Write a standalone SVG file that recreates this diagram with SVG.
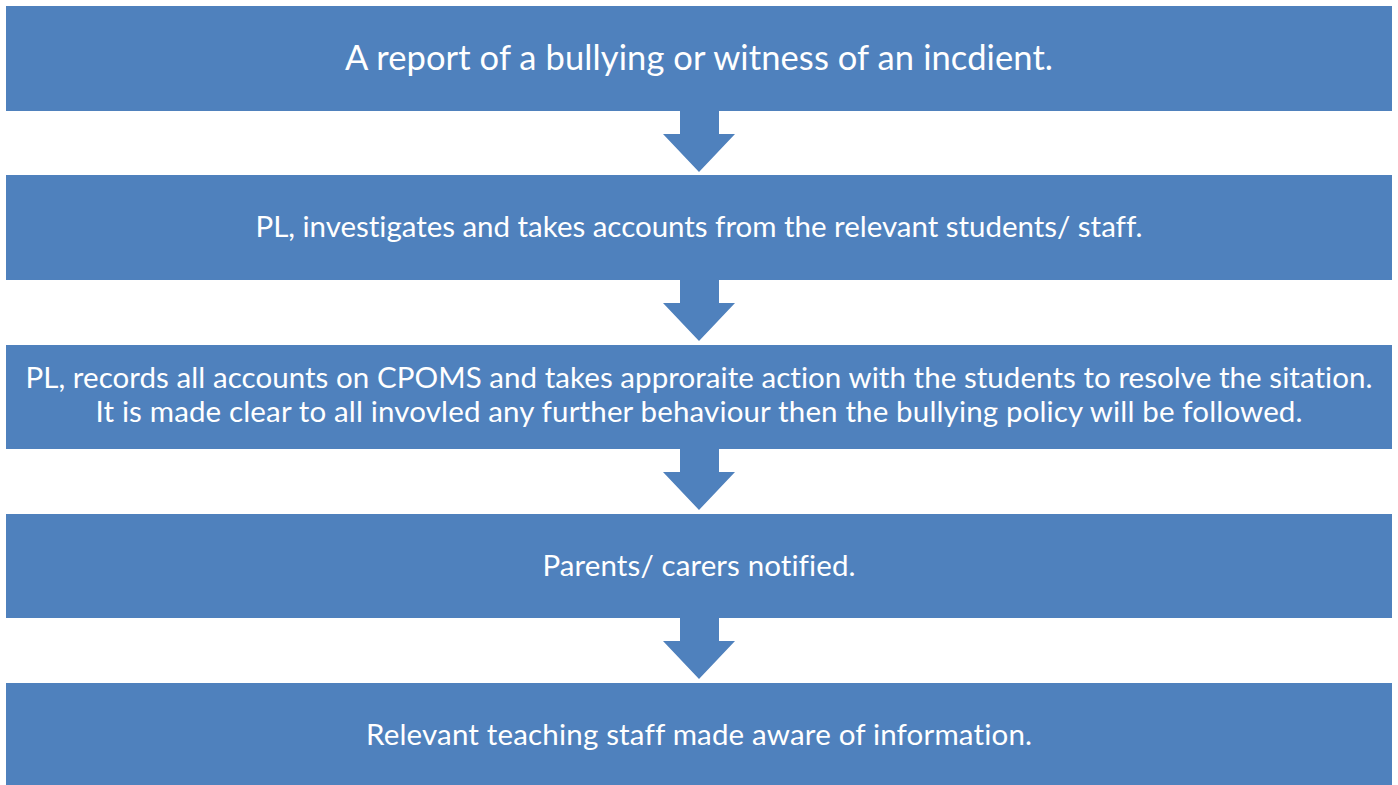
<svg xmlns="http://www.w3.org/2000/svg" width="1398" height="785" viewBox="0 0 1398 785">
<style>
.box{fill:#4F81BD}
.arr{fill:#4F81BD}
text{fill:#FFFFFF;font-family:Lato,"Open Sans","Liberation Sans",sans-serif;text-anchor:middle;font-variant-ligatures:none;font-feature-settings:"liga" 0,"dlig" 0}
.big{font-size:34.5px}
.t{font-size:29.5px}
</style>
<rect width="1398" height="785" fill="#FFFFFF"/>
<g id="connectors">
<path class="arr" d="M680,111 H719 V134 H735 L699,172 L663,134 H680 Z"/>
<path class="arr" d="M680,280 H719 V303 H735 L699,341 L663,303 H680 Z"/>
<path class="arr" d="M680,449 H719 V472 H735 L699,510 L663,472 H680 Z"/>
<path class="arr" d="M680,618 H719 V641 H735 L699,679 L663,641 H680 Z"/>
</g>
<g id="node1"><rect class="box" x="6" y="6" width="1386" height="105"/><text class="big" x="699" y="70" textLength="708">A report of a bullying or witness of an incdient.</text></g>
<g id="node2"><rect class="box" x="6" y="175" width="1386" height="105"/><text class="t" x="699" y="237" textLength="887">PL, investigates and takes accounts from the relevant students/ staff.</text></g>
<g id="node3"><rect class="box" x="6" y="345" width="1386" height="104"/><text class="t" x="699" y="388" textLength="1347">PL, records all accounts on CPOMS and takes approraite action with the students to resolve the sitation.</text><text class="t" x="699" y="422" textLength="1207">It is made clear to all invovled any further behaviour then the bullying policy will be followed.</text></g>
<g id="node4"><rect class="box" x="6" y="514" width="1386" height="104"/><text class="t" x="699" y="576" textLength="313">Parents/ carers notified.</text></g>
<g id="node5"><rect class="box" x="6" y="683" width="1386" height="102"/><text class="t" x="699" y="745" textLength="666">Relevant teaching staff made aware of information.</text></g>
</svg>
